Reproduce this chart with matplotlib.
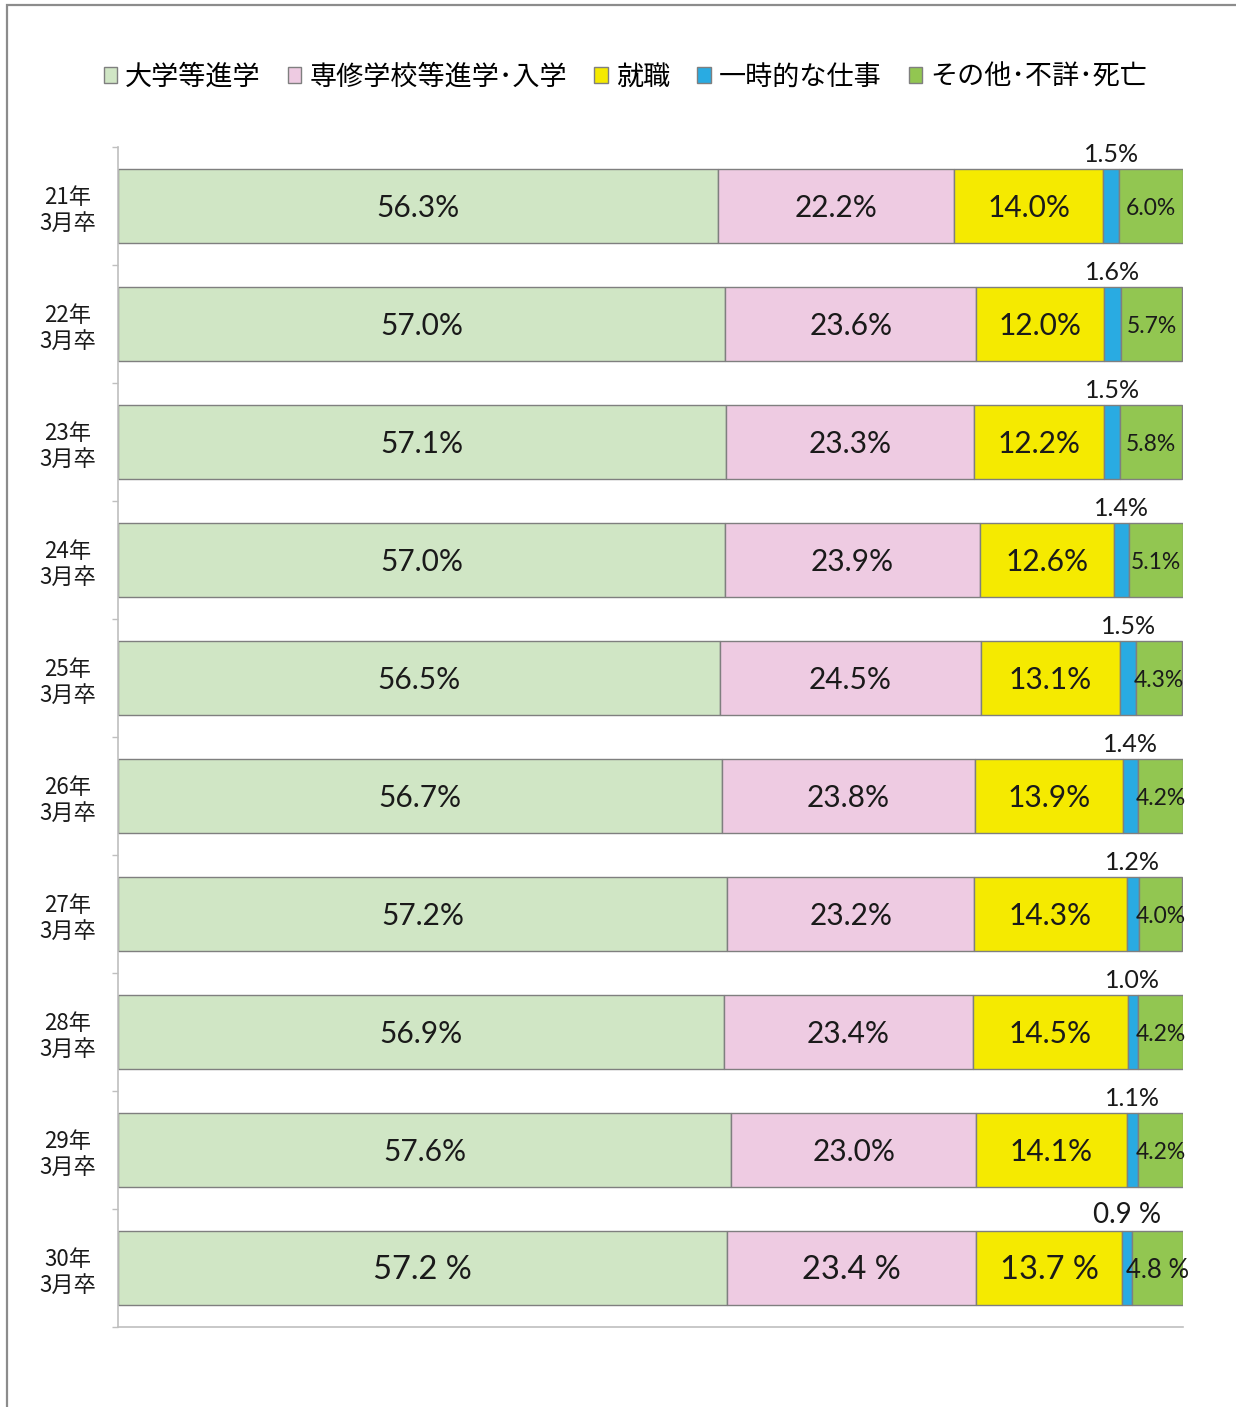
import numpy as np
import matplotlib.pyplot as plt
from matplotlib.patches import Rectangle

plt.rcParams['font.family'] = ['Noto Sans CJK JP', 'DejaVu Sans']

# data
years = ['21年\n3月卒', '22年\n3月卒', '23年\n3月卒', '24年\n3月卒', '25年\n3月卒',
         '26年\n3月卒', '27年\n3月卒', '28年\n3月卒', '29年\n3月卒', '30年\n3月卒']
series_names = ['大学等進学', '専修学校等進学･入学', '就職', '一時的な仕事', 'その他･不詳･死亡']
univ = [56.3, 57.0, 57.1, 57.0, 56.5, 56.7, 57.2, 56.9, 57.6, 57.2]
senshu = [22.2, 23.6, 23.3, 23.9, 24.5, 23.8, 23.2, 23.4, 23.0, 23.4]
shushoku = [14.0, 12.0, 12.2, 12.6, 13.1, 13.9, 14.3, 14.5, 14.1, 13.7]
ichiji = [1.5, 1.6, 1.5, 1.4, 1.5, 1.4, 1.2, 1.0, 1.1, 0.9]
sonota = [6.0, 5.7, 5.8, 5.1, 4.3, 4.2, 4.0, 4.2, 4.2, 4.8]

colors = ['#d0e6c5', '#eecbe2', '#f5ea00', '#29abe2', '#92c651']
num_font = ['Lato', 'Noto Sans CJK JP']

fig = plt.figure(figsize=(12.36, 14.07), dpi=100)
ax = fig.add_axes([118 / 1236, 1 - 1327 / 1407, (1183 - 118) / 1236, (1327 - 147) / 1407])

y = np.arange(len(years))
data = [univ, senshu, shushoku, ichiji, sonota]
left = np.zeros(len(years))
bars = []
for vals, c, name in zip(data, colors, series_names):
    b = ax.barh(y, vals, left=left, height=0.62, color=c, edgecolor='#7f7f7f',
                linewidth=1.0, label=name)
    bars.append(b)
    left = left + np.array(vals)

last = len(years) - 1

def fmt(v, i):
    # the last year uses a space before %
    return f'{v:.1f} %' if i == last else f'{v:.1f}%'

# labels inside the bars
for k, (b, vals) in enumerate(zip(bars, data)):
    if k == 3:
        continue
    for i, rect in enumerate(b):
        cx = rect.get_x() + rect.get_width() / 2
        cy = rect.get_y() + rect.get_height() / 2 + 0.02
        if k == 4:
            fs = 18.5 if i == last else 16.5
        else:
            fs = 23.5 if i == last else 21.5
        ax.text(cx, cy, fmt(vals[i], i), ha='center', va='center',
                fontsize=fs, color='#1a1a1a', family=num_font)

# small segment labels above the bar
for i, rect in enumerate(bars[3]):
    cx = rect.get_x() + rect.get_width() / 2
    fs = 20 if i == last else 18
    ax.text(cx, rect.get_y() - 0.03, fmt(ichiji[i], i), ha='center', va='bottom',
            fontsize=fs, color='#1a1a1a', family=num_font)

ax.set_xlim(0, 100)
ax.set_ylim(len(years) - 0.5, -0.5)
ax.set_xticks([])
ax.set_yticks(y)
ax.set_yticklabels(years, fontsize=16, ha='center', linespacing=1.2, color='#1a1a1a')
ax.tick_params(axis='y', which='major', length=0, pad=36)
ax.set_yticks(np.arange(-0.5, len(years)), minor=True)
ax.tick_params(axis='y', which='minor', length=4.5, color='#bfbfbf', width=1)
for s in ['top', 'right']:
    ax.spines[s].set_visible(False)
for s in ['left', 'bottom']:
    ax.spines[s].set_color('#bfbfbf')
    ax.spines[s].set_linewidth(1.2)

leg = fig.legend(loc='center', bbox_to_anchor=(0.506, 1 - 77 / 1407), ncol=5,
                 frameon=False, fontsize=19.5, handlelength=0.5, handleheight=0.5,
                 handletextpad=0.3, columnspacing=1.0)
for h in leg.legend_handles:
    h.set_edgecolor('#7f7f7f')

# outer frame (top and left edges visible)
fig.add_artist(Rectangle((7 / 1236, -0.1), 1.2, 1 - 5 / 1407 + 0.1, transform=fig.transFigure,
                         fill=False, edgecolor='#8c8c8c', linewidth=1.6, clip_on=False))

fig.savefig('out.png', dpi=100)
